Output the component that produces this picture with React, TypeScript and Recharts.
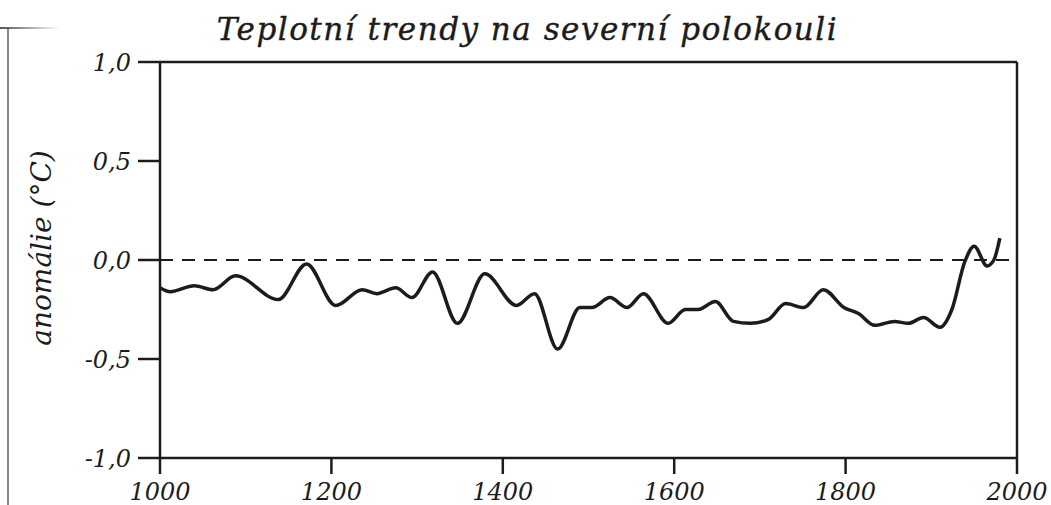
import { LineChart, Line, XAxis, YAxis, ReferenceLine } from "recharts";

const years = [
  1000, 1012, 1040, 1062, 1088, 1138, 1171, 1205, 1236, 1253, 1275, 1294,
  1318, 1347, 1379, 1416, 1437, 1464, 1490, 1504, 1525, 1545, 1564, 1593,
  1613, 1628, 1648, 1669, 1689, 1710, 1730, 1751, 1774, 1798, 1815, 1834,
  1857, 1873, 1891, 1910, 1924, 1939, 1950, 1965, 1973, 1980,
];
const anomaly = [
  -0.14, -0.16, -0.13, -0.15, -0.08, -0.2, -0.02, -0.23, -0.15, -0.17, -0.14,
  -0.19, -0.06, -0.32, -0.07, -0.23, -0.17, -0.45, -0.24, -0.24, -0.19, -0.24,
  -0.17, -0.32, -0.25, -0.25, -0.21, -0.31, -0.32, -0.3, -0.22, -0.24, -0.15,
  -0.24, -0.27, -0.33, -0.31, -0.32, -0.29, -0.34, -0.25, -0.01, 0.07, -0.03,
  0.0, 0.11,
];
const xTicks = [1000, 1200, 1400, 1600, 1800, 2000];
const yTicks = [-1, -0.5, 0, 0.5, 1];

const title = "Teplotní trendy na severní polokouli";
const yLabel = "anomálie (°C)";

const data = years.map((year, i) => ({ year, value: anomaly[i] }));

const font = "'DejaVu Serif', serif";
const ink = "#1c1c1c";

const fmtY = (v: number) => v.toFixed(1).replace(".", ",");

export default function App() {
  return (
    <div
      style={{
        position: "absolute",
        left: 0,
        top: 0,
        width: 1051,
        height: 505,
        background: "#fff",
        overflow: "hidden",
      }}
    >
      {/* scan frame edges */}
      <div
        style={{
          position: "absolute",
          left: 7,
          top: 28,
          width: 2,
          height: 477,
          background: "#888",
        }}
      />
      <div
        style={{
          position: "absolute",
          left: 0,
          top: 27,
          width: 60,
          height: 2,
          background: "linear-gradient(to right, #555, rgba(85,85,85,0))",
        }}
      />
      <div
        style={{
          position: "absolute",
          left: 0,
          top: 11,
          width: 1051,
          textAlign: "center",
          paddingLeft: 2,
          fontFamily: font,
          fontStyle: "italic",
          fontSize: 31,
          color: ink,
          letterSpacing: 1.5,
          WebkitTextStroke: "0.4px #1c1c1c",
        }}
      >
        {title}
      </div>
      <div
        style={{
          position: "absolute",
          left: 41,
          top: 248,
          transform: "translate(-50%, -50%) rotate(-90deg)",
          whiteSpace: "nowrap",
          fontFamily: font,
          fontStyle: "italic",
          fontSize: 28,
          color: ink,
        }}
      >
        {yLabel}
      </div>
      <LineChart
        width={1051}
        height={505}
        data={data}
        margin={{ top: 62, right: 34, bottom: 0, left: 0 }}
      >
        <XAxis
          dataKey="year"
          type="number"
          domain={[1000, 2000]}
          ticks={xTicks}
          height={47}
          tickSize={16}
          tickMargin={9}
          stroke={ink}
          strokeWidth={2.5}
          tick={{
            fill: ink,
            fontFamily: font,
            fontStyle: "italic",
            fontSize: 24,
          }}
        />
        <YAxis
          type="number"
          domain={[-1, 1]}
          ticks={yTicks}
          width={160}
          tickSize={22}
          tickMargin={7}
          tickFormatter={fmtY}
          stroke={ink}
          strokeWidth={2.5}
          tick={{
            fill: ink,
            fontFamily: font,
            fontStyle: "italic",
            fontSize: 24,
          }}
        />
        <ReferenceLine y={1} stroke={ink} strokeWidth={2.5} />
        <ReferenceLine x={2000} stroke={ink} strokeWidth={2.5} />
        <ReferenceLine
          y={0}
          stroke={ink}
          strokeWidth={2}
          strokeDasharray="13 9"
        />
        <Line
          type="monotone"
          dataKey="value"
          stroke={ink}
          strokeWidth={3.5}
          dot={false}
          isAnimationActive={false}
        />
      </LineChart>
    </div>
  );
}
